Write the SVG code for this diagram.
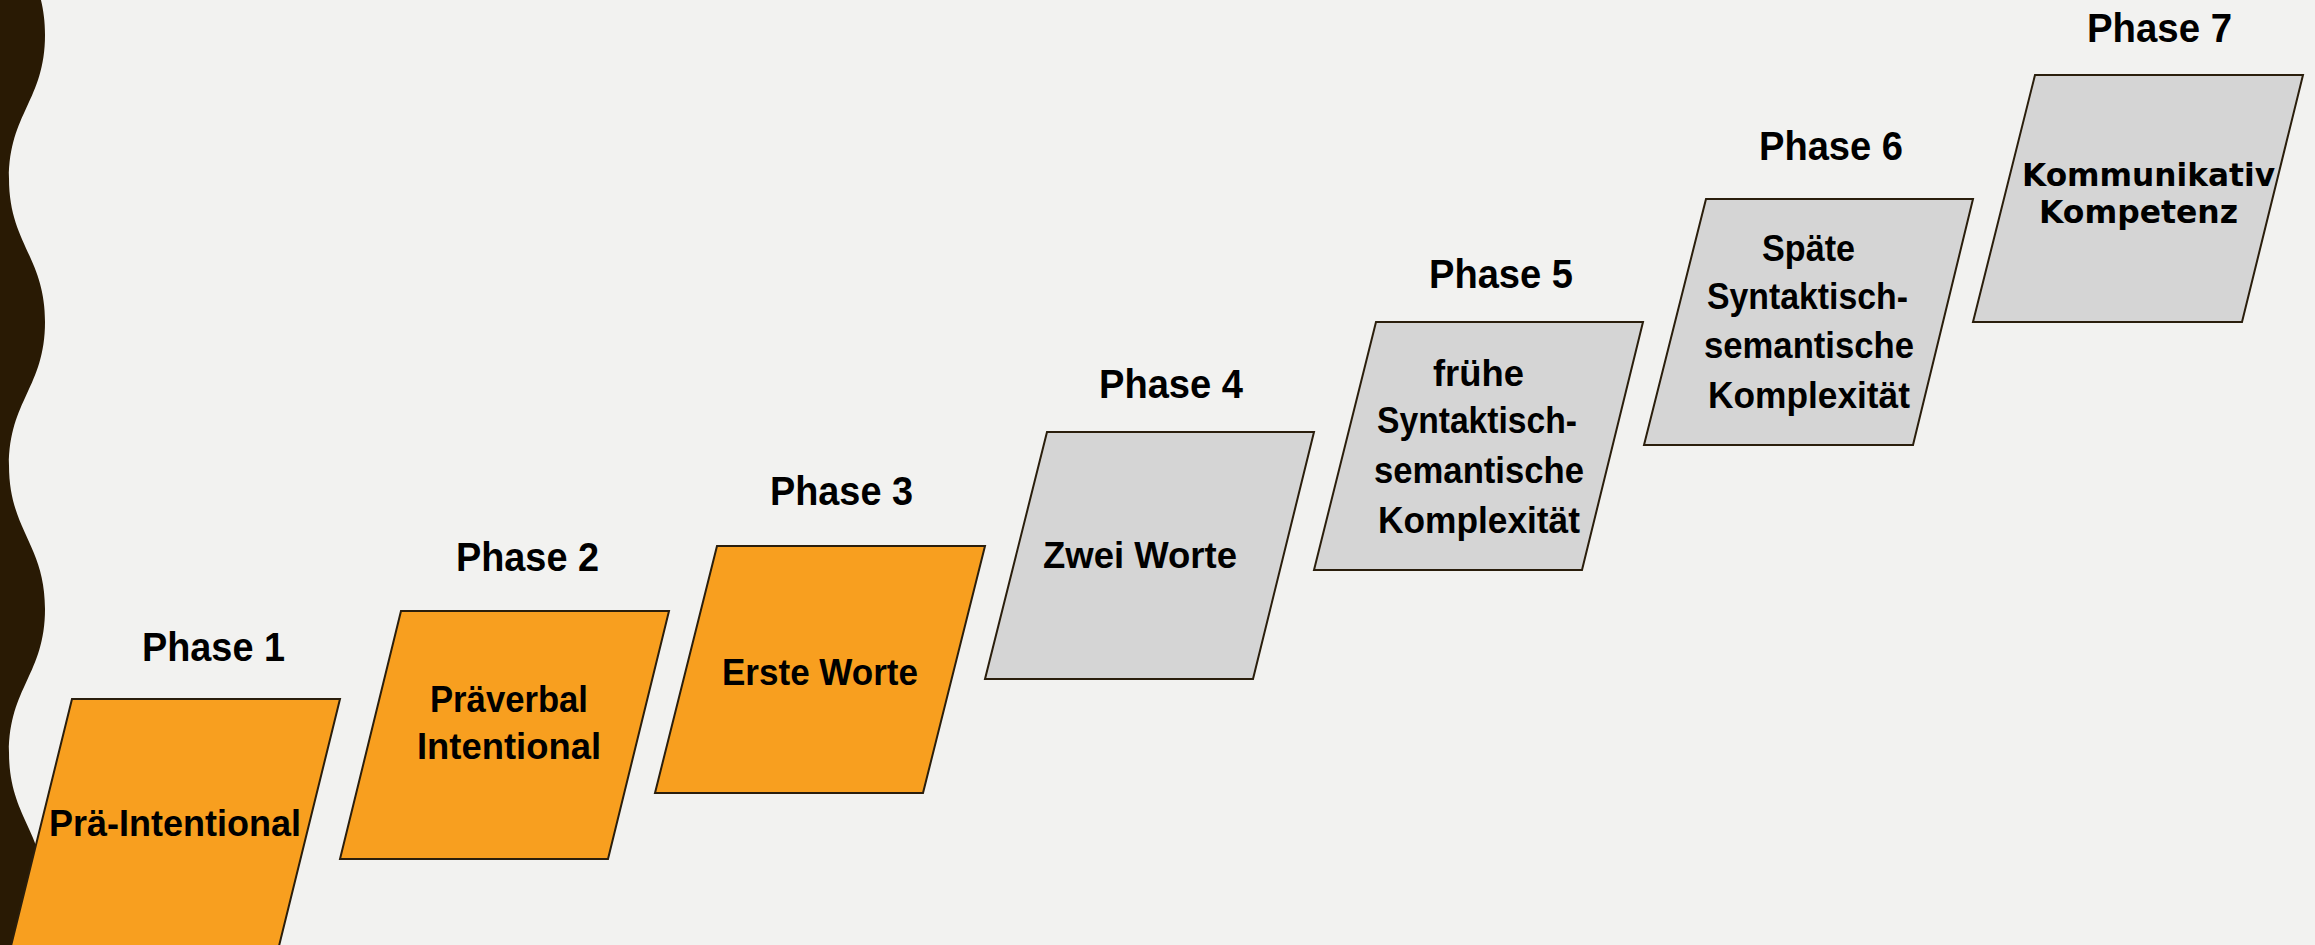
<svg xmlns="http://www.w3.org/2000/svg" width="2315" height="945" viewBox="0 0 2315 945">
  <style>
    .bg { fill: #F2F2F0; }
    .wave { fill: #291A04; }
    .orange { fill: #F89F1F; stroke: #2A1E0C; stroke-width: 2; stroke-linejoin: miter; }
    .grey { fill: #D5D5D5; stroke: #2A1E0C; stroke-width: 2; stroke-linejoin: miter; }
    .phase { font-family: "Liberation Sans", Arial, sans-serif; font-weight: bold; font-size: 41px; fill: #000; }
    .lbl { font-family: "Liberation Sans", Arial, sans-serif; font-weight: bold; font-size: 37px; fill: #000; }
    .lbl7 { font-family: "DejaVu Sans", "Liberation Sans", sans-serif; font-weight: bold; font-size: 31.5px; fill: #000; }
  </style>
  <rect class="bg" x="0" y="0" width="2315" height="945"/>
  <path class="wave" d="M0,-109 L9,-109 C9,-44 45,-30 45,35 C45,100 9,113.5 9,178.5 C9,243.5 45,257 45,322 C45,387 9,400.5 9,465.5 C9,530.5 45,544 45,609 C45,674 9,687.5 9,752.5 C9,817.5 45,831 45,896 C45,961 9,974.5 9,1039.5 L0,1039.5 Z"/>
  <g id="connectors"></g>
  <g id="phase1">
    <text class="phase" x="142" y="661" textLength="143" lengthAdjust="spacingAndGlyphs">Phase 1</text>
    <polygon class="orange" points="72,699 340,699 279,946 11,946"/>
    <text class="lbl" x="49" y="836" textLength="252" lengthAdjust="spacingAndGlyphs">Prä-Intentional</text>
  </g>
  <g id="phase2">
    <text class="phase" x="456" y="571" textLength="143" lengthAdjust="spacingAndGlyphs">Phase 2</text>
    <polygon class="orange" points="401,611 669,611 608,859 340,859"/>
    <text class="lbl" x="430" y="712" textLength="158" lengthAdjust="spacingAndGlyphs">Präverbal</text>
    <text class="lbl" x="417" y="759" textLength="184" lengthAdjust="spacingAndGlyphs">Intentional</text>
  </g>
  <g id="phase3">
    <text class="phase" x="770" y="505" textLength="143" lengthAdjust="spacingAndGlyphs">Phase 3</text>
    <polygon class="orange" points="717,546 985,546 923,793 655,793"/>
    <text class="lbl" x="722" y="685" textLength="196" lengthAdjust="spacingAndGlyphs">Erste Worte</text>
  </g>
  <g id="phase4">
    <text class="phase" x="1099" y="398" textLength="144" lengthAdjust="spacingAndGlyphs">Phase 4</text>
    <polygon class="grey" points="1047,432 1314,432 1253,679 985,679"/>
    <text class="lbl" x="1043" y="568" textLength="194" lengthAdjust="spacingAndGlyphs">Zwei Worte</text>
  </g>
  <g id="phase5">
    <text class="phase" x="1429" y="288" textLength="144" lengthAdjust="spacingAndGlyphs">Phase 5</text>
    <polygon class="grey" points="1376,322 1643,322 1582,570 1314,570"/>
    <text class="lbl" x="1433" y="386" textLength="91" lengthAdjust="spacingAndGlyphs">frühe</text>
    <text class="lbl" x="1377" y="433" textLength="200" lengthAdjust="spacingAndGlyphs">Syntaktisch-</text>
    <text class="lbl" x="1374" y="483" textLength="210" lengthAdjust="spacingAndGlyphs">semantische</text>
    <text class="lbl" x="1378" y="533" textLength="202" lengthAdjust="spacingAndGlyphs">Komplexität</text>
  </g>
  <g id="phase6">
    <text class="phase" x="1759" y="160" textLength="144" lengthAdjust="spacingAndGlyphs">Phase 6</text>
    <polygon class="grey" points="1706,199 1973,199 1913,445 1644,445"/>
    <text class="lbl" x="1762" y="261" textLength="93" lengthAdjust="spacingAndGlyphs">Späte</text>
    <text class="lbl" x="1707" y="309" textLength="201" lengthAdjust="spacingAndGlyphs">Syntaktisch-</text>
    <text class="lbl" x="1704" y="358" textLength="210" lengthAdjust="spacingAndGlyphs">semantische</text>
    <text class="lbl" x="1708" y="408" textLength="202" lengthAdjust="spacingAndGlyphs">Komplexität</text>
  </g>
  <g id="phase7">
    <text class="phase" x="2087" y="42" textLength="145" lengthAdjust="spacingAndGlyphs">Phase 7</text>
    <polygon class="grey" points="2035,75 2303,75 2242,322 1973,322"/>
    <text class="lbl7" x="2022" y="186" textLength="253" lengthAdjust="spacingAndGlyphs">Kommunikativ</text>
    <text class="lbl7" x="2039" y="223" textLength="199" lengthAdjust="spacingAndGlyphs">Kompetenz</text>
  </g>
</svg>
